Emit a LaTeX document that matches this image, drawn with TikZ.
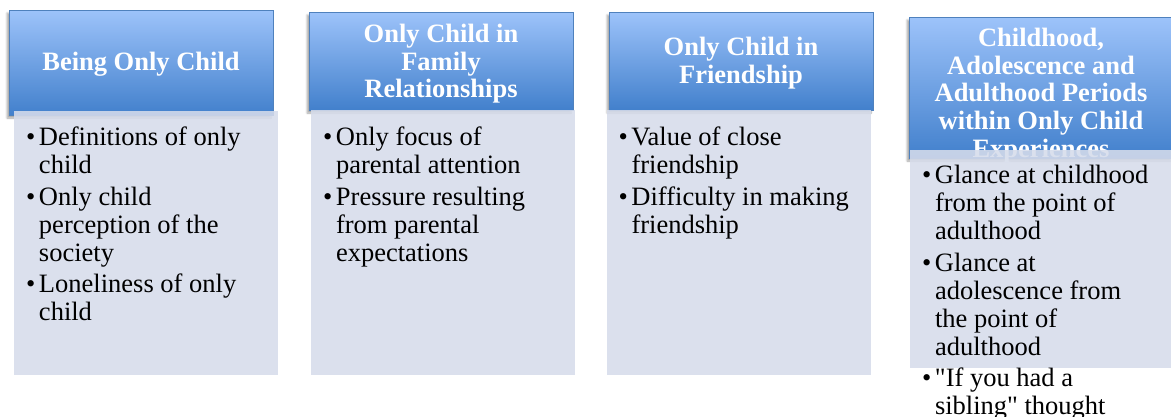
\documentclass[tikz,border=0pt]{standalone}
\usepackage{fontspec}
\setmainfont{Liberation Serif}
\usetikzlibrary{shadows.blur}

\definecolor{headtop}{RGB}{157,195,250}
\definecolor{headbot}{RGB}{66,128,204}
\definecolor{headline}{RGB}{79,129,189}
\definecolor{bodyfill}{RGB}{214,220,235}

\newcommand{\bul}{\makebox[13pt][l]{\textbullet}}
\newcommand{\cont}{\hspace*{13pt}}

\begin{document}
\begin{tikzpicture}[x=1pt,y=-1pt,
    header/.style={rectangle, draw=headline, line width=0.8pt,
        top color=headtop, bottom color=headbot, minimum width=264pt,
        inner sep=0pt,
        blur shadow={shadow xshift=-2pt, shadow yshift=-3pt,
            shadow blur steps=6, shadow opacity=35}},
    headtext/.style={text=white, font=\fontsize{26.5}{27.6}\selectfont\bfseries,
        align=center, inner sep=0pt},
    bodybox/.style={rectangle, fill=bodyfill, fill opacity=0.88,
        minimum width=264pt, inner sep=0pt},
    items/.style={anchor=north west, align=left, inner sep=0pt,
        font=\fontsize{26.5}{28}\selectfont}]
    \useasboundingbox (0,0) rectangle (1171,416);
    \clip (0,0) rectangle (1171,416);

    % Headers
    \node[header, minimum height=105pt] (h1) at (141,62.5) {};
    \node[header, minimum height=98pt] (h2) at (441,61) {};
    \node[header, minimum height=98pt] (h3) at (741,61) {};
    \node[header, minimum height=141pt] (h4) at (1041,87.5) {};

    \node[headtext] (ht1) at ([yshift=-2pt]h1.center) {Being Only Child};
    \node[headtext] (ht2) at ([yshift=-3pt]h2.center) {Only Child in\\Family\\Relationships};
    \node[headtext] (ht3) at ([yshift=-2pt]h3.center) {Only Child in\\Friendship};
    \node[headtext] (ht4) at ([yshift=-8pt]h4.center)
        {Childhood,\\Adolescence and\\Adulthood Periods\\within Only Child\\Experiences};

    % Bodies
    \node[bodybox, minimum height=264pt] (b1) at (146,243) {};
    \node[bodybox, minimum height=265pt] (b2) at (443,242.5) {};
    \node[bodybox, minimum height=265pt] (b3) at (738.5,242.5) {};
    \node[bodybox, minimum height=218pt] (b4) at (1042,259) {};

    % Items
    \node[items] (t1) at ([xshift=12pt,yshift=-15pt]b1.north west)
        {\strut\bul Definitions of only\\\cont child\\[3.5pt]
         \bul Only child\\\cont perception of the\\\cont society\\[3.5pt]
         \bul Loneliness of only\\\cont child};
    \node[items] (t2) at ([xshift=12pt,yshift=-16pt]b2.north west)
        {\strut\bul Only focus of\\\cont parental attention\\[3.5pt]
         \bul Pressure resulting\\\cont from parental\\\cont expectations};
    \node[items] (t3) at ([xshift=12pt,yshift=-16pt]b3.north west)
        {\strut\bul Value of close\\\cont friendship\\[3.5pt]
         \bul Difficulty in making\\\cont friendship};
    \node[items] (t4) at ([xshift=12pt,yshift=-14pt]b4.north west)
        {\strut\bul Glance at childhood\\\cont from the point of\\\cont adulthood\\[3.5pt]
         \bul Glance at\\\cont adolescence from\\\cont the point of\\\cont adulthood\\[3.5pt]
         \bul \textquotedbl If you had a\\\cont sibling\textquotedbl{} thought};
\end{tikzpicture}
\end{document}
